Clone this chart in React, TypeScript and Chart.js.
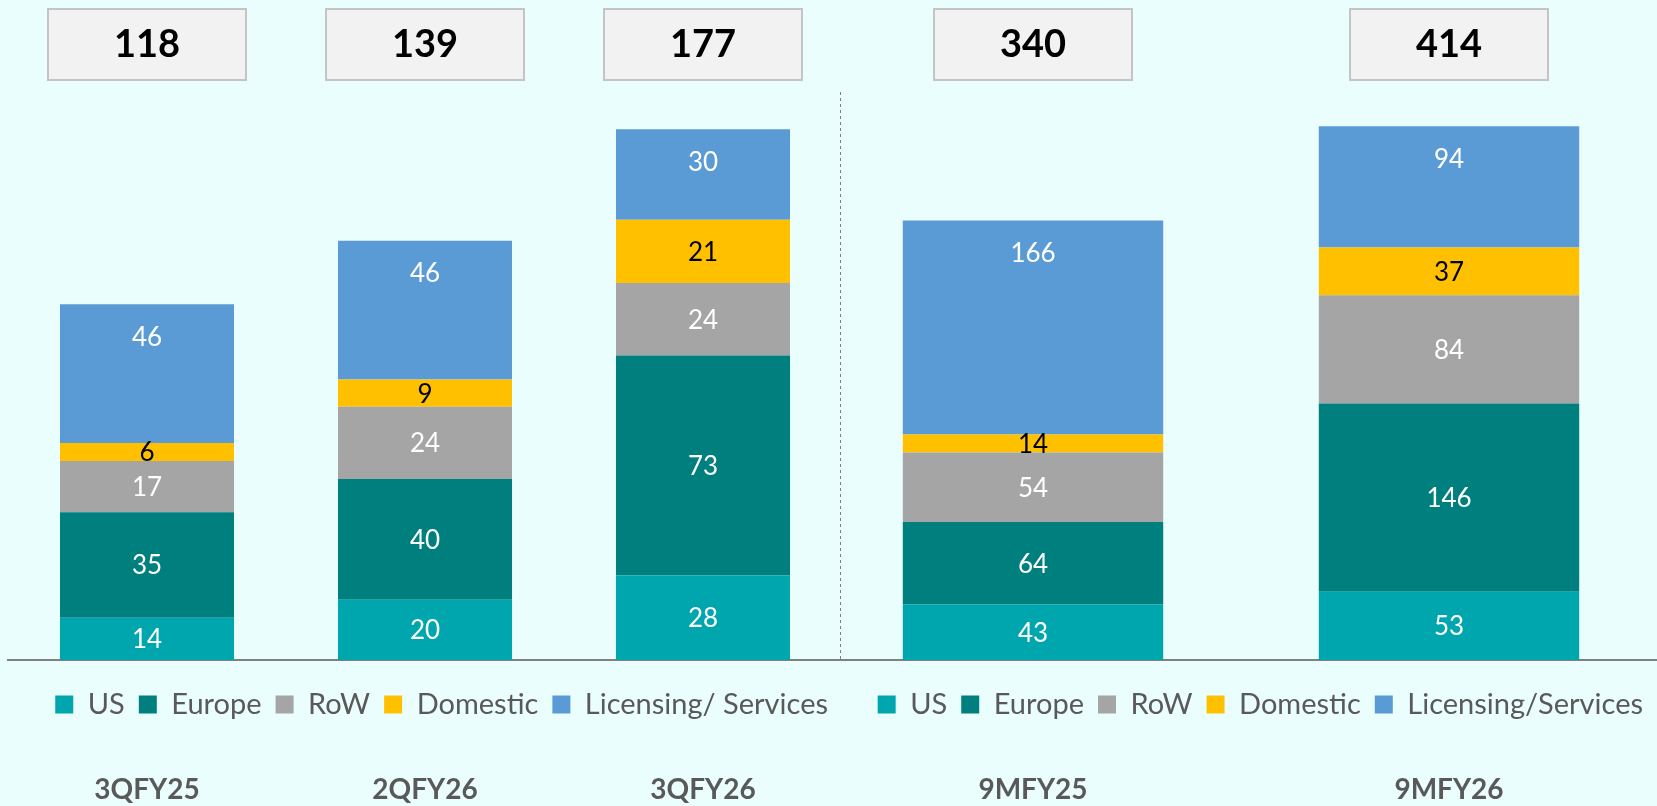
import React, { useEffect, useRef } from 'react';
import { Chart, registerables } from 'chart.js';

Chart.register(...registerables);

const SERIES_LEFT = ['US', 'Europe', 'RoW', 'Domestic', 'Licensing/ Services'];
const SERIES_RIGHT = ['US', 'Europe', 'RoW', 'Domestic', 'Licensing/Services'];
const COLORS = ['#00A6AD', '#007F7F', '#A5A5A5', '#FFC000', '#5B9BD5'];

const quarterCategories = ['3QFY25', '2QFY26', '3QFY26'];
const quarterUS = [14, 20, 28];
const quarterEurope = [35, 40, 73];
const quarterRoW = [17, 24, 24];
const quarterDomestic = [6, 9, 21];
const quarterLicensing = [46, 46, 30];
const quarterTotals = [118, 139, 177];

const ytdCategories = ['9MFY25', '9MFY26'];
const ytdUS = [43, 53];
const ytdEurope = [64, 146];
const ytdRoW = [54, 84];
const ytdDomestic = [14, 37];
const ytdLicensing = [166, 94];
const ytdTotals = [340, 414];

const FONT = 'Lato';

function decorPlugin(totals: number[], divider: boolean) {
  return {
    id: 'decor',
    afterDatasetsDraw(chart: any) {
      const ctx = chart.ctx;
      const n = chart.data.datasets.length;
      chart.data.datasets.forEach((ds: any, i: number) => {
        const meta = chart.getDatasetMeta(i);
        meta.data.forEach((bar: any, j: number) => {
          const v = ds.data[j];
          const top = Math.min(bar.y, bar.base);
          const bottom = Math.max(bar.y, bar.base);
          const y = i === n - 1 ? top + 33 : (top + bottom) / 2 + 1;
          ctx.save();
          ctx.font = `26px ${FONT}`;
          ctx.fillStyle = i === 3 ? '#000000' : '#FFFFFF';
          ctx.textAlign = 'center';
          ctx.textBaseline = 'middle';
          ctx.fillText(String(v), bar.x, y);
          ctx.restore();
        });
      });
    },
    afterDraw(chart: any) {
      const ctx = chart.ctx;
      const area = chart.chartArea;
      const meta = chart.getDatasetMeta(0);
      const labels = chart.data.labels as string[];
      meta.data.forEach((bar: any, j: number) => {
        const x = bar.x;
        ctx.save();
        ctx.fillStyle = '#F2F2F2';
        ctx.strokeStyle = '#C4C4C4';
        ctx.lineWidth = 2;
        ctx.fillRect(x - 99, 9, 198, 71);
        ctx.strokeRect(x - 99, 9, 198, 71);
        ctx.fillStyle = '#000000';
        ctx.font = `bold 38px ${FONT}`;
        ctx.textAlign = 'center';
        ctx.textBaseline = 'middle';
        ctx.fillText(String(totals[j]), x, 45);
        ctx.fillStyle = '#595959';
        ctx.font = `bold 28px ${FONT}`;
        ctx.fillText(labels[j], x, area.bottom + 130);
        ctx.restore();
      });
      if (divider) {
        ctx.save();
        ctx.strokeStyle = '#808080';
        ctx.lineWidth = 1;
        ctx.setLineDash([3, 3]);
        ctx.beginPath();
        const x = Math.round(area.right - 2) + 0.5;
        ctx.moveTo(x, 92);
        ctx.lineTo(x, area.bottom);
        ctx.stroke();
        ctx.restore();
      }
    },
  };
}

function buildConfig(
  categories: string[],
  names: string[],
  series: number[][],
  totals: number[],
  yMax: number,
  padLeft: number,
  divider: boolean
): any {
  return {
    type: 'bar',
    data: {
      labels: categories,
      datasets: series.map((d, i) => ({
        label: names[i],
        data: d,
        backgroundColor: COLORS[i],
        borderWidth: 0,
        categoryPercentage: 1,
        barPercentage: 0.626,
      })),
    },
    options: {
      animation: false,
      responsive: true,
      maintainAspectRatio: false,
      layout: { padding: { top: 100, left: padLeft, right: 0, bottom: 77 } },
      scales: {
        x: {
          stacked: true,
          grid: { display: false, drawTicks: true, tickLength: 16 },
          ticks: { display: false },
          border: { display: true, color: '#808080', width: 2 },
        },
        y: { stacked: true, display: false, min: 0, max: yMax },
      },
      plugins: {
        legend: {
          position: 'bottom',
          align: 'end',
          labels: {
            boxWidth: 18,
            boxHeight: 18,
            padding: 14,
            color: '#595959',
            font: { size: 29, family: FONT },
          },
        },
        tooltip: { enabled: false },
      },
    },
    plugins: [decorPlugin(totals, divider)],
  };
}

export default function App() {
  const leftRef = useRef<HTMLCanvasElement>(null);
  const rightRef = useRef<HTMLCanvasElement>(null);

  useEffect(() => {
    document.body.style.margin = '0';
    document.body.style.background = '#EBFEFE';
    const left = new Chart(
      leftRef.current!,
      buildConfig(
        quarterCategories,
        SERIES_LEFT,
        [quarterUS, quarterEurope, quarterRoW, quarterDomestic, quarterLicensing],
        quarterTotals,
        185.7,
        8,
        true
      )
    );
    const right = new Chart(
      rightRef.current!,
      buildConfig(
        ytdCategories,
        SERIES_RIGHT,
        [ytdUS, ytdEurope, ytdRoW, ytdDomestic, ytdLicensing],
        ytdTotals,
        434.4,
        0,
        false
      )
    );
    return () => {
      left.destroy();
      right.destroy();
    };
  }, []);

  return (
    <div style={{ position: 'relative', width: 1657, height: 806, background: '#EBFEFE', overflow: 'hidden' }}>
      <div style={{ position: 'absolute', left: 0, top: 0, width: 842, height: 806 }}>
        <canvas ref={leftRef} />
      </div>
      <div style={{ position: 'absolute', left: 825, top: 0, width: 832, height: 806 }}>
        <canvas ref={rightRef} />
      </div>
    </div>
  );
}
